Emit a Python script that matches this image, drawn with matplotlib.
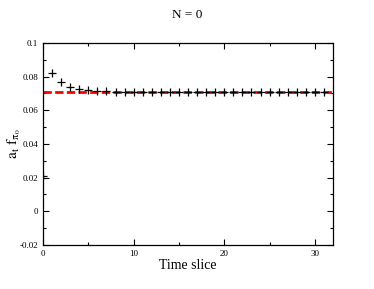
import numpy as np
import matplotlib
matplotlib.use("Agg")
import matplotlib.pyplot as plt
from matplotlib.ticker import MultipleLocator

plt.rcParams['font.family'] = ['Liberation Serif', 'DejaVu Serif']
plt.rcParams['mathtext.fontset'] = 'stix'

# data
tslice = np.arange(0, 32)
afpi = [0.0210, 0.0824, 0.0766, 0.0740, 0.0727, 0.0719, 0.0714, 0.0712,
        0.0711, 0.0711, 0.0711, 0.0711, 0.0711, 0.0711, 0.0711, 0.0711,
        0.0711, 0.0711, 0.0711, 0.0711, 0.0711, 0.0711, 0.0711, 0.0711,
        0.0711, 0.0711, 0.0711, 0.0711, 0.0711, 0.0711, 0.0711, 0.0711]
fit_val = 0.0710
fit_range = [0, 32]

fig = plt.figure(figsize=(3.74, 2.89), dpi=100)
ax = fig.add_axes([43/374, 1-245/289, 290/374, 202/289])

ax.plot(fit_range, [fit_val, fit_val], color='#ff0000', ls='--', lw=2, dashes=(3, 1.2), zorder=2)
ax.plot(tslice, afpi, ls='none', marker='+', color='black', ms=5.5, mew=0.9, zorder=3)

ax.set_xlim(0, 32)
ax.set_ylim(-0.02, 0.1)
ax.xaxis.set_major_locator(MultipleLocator(10))
ax.xaxis.set_minor_locator(MultipleLocator(5))
ax.yaxis.set_minor_locator(MultipleLocator(0.01))
yt = np.arange(-0.02, 0.1001, 0.02)
ax.set_yticks(yt)
ax.set_yticklabels(['-0.02', '0', '0.02', '0.04', '0.06', '0.08', '0.1'])
ax.tick_params(which='both', direction='in', top=True, right=True, labelsize=6.5, width=0.8)
ax.tick_params(which='major', length=4)
ax.tick_params(which='minor', length=2)
for s in ax.spines.values():
    s.set_linewidth(0.9)

ax.set_xlabel('Time slice', fontsize=10, labelpad=1)
ax.set_ylabel(r'$\mathrm{a_t\ f_{\pi_0}}$', fontsize=11)
ax.yaxis.set_label_coords(-0.07, 0.5)
fig.text(0.5, 1-15/289, 'N = 0', ha='center', va='center', fontsize=9.5)

fig.savefig('out.png', dpi=100)
